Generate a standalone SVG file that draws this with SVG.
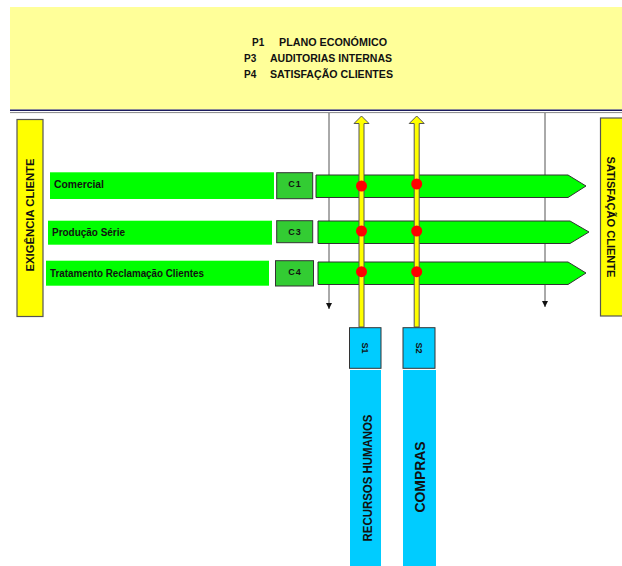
<svg xmlns="http://www.w3.org/2000/svg" width="622" height="566" viewBox="0 0 622 566">
<defs>
<style>
.t{font-family:"Liberation Sans",Arial,sans-serif;font-weight:bold;fill:#111}
.ylw{fill:#FFFF00;stroke:#555;stroke-width:1.2}
.lbl{fill:#00FF00}
.cbox{fill:#33CC33;stroke:#333;stroke-width:1}
.bar{fill:#00FF00;stroke:#333;stroke-width:1}
.vline{stroke:#555;stroke-width:1;fill:none}
.yarrow{fill:#FFFF00;stroke:#555;stroke-width:1}
.dot{fill:#FF0000}
.sbox{fill:#00CCFF;stroke:#333;stroke-width:1}
.scol{fill:#00CCFF}
</style>
<marker id="ah" viewBox="0 0 6 6" refX="6" refY="3" markerWidth="6" markerHeight="6" markerUnits="userSpaceOnUse" orient="auto">
<path d="M0,0 L6,3 L0,6 z" fill="#111"/>
</marker>
</defs>
<rect width="622" height="566" fill="#fff"/>

<g id="header">
<rect x="10" y="7" width="612" height="102.5" fill="#FFFF99"/>
<line x1="10" y1="110.3" x2="622" y2="110.3" stroke="#1a1a5e" stroke-width="1.6"/>
<line x1="10" y1="112.6" x2="622" y2="112.6" stroke="#888" stroke-width="1"/>
<text class="t" font-size="10"><tspan x="252" y="46">P1</tspan><tspan x="279" y="46" textLength="108" lengthAdjust="spacingAndGlyphs">PLANO ECONÓMICO</tspan></text>
<text class="t" font-size="10"><tspan x="244" y="62">P3</tspan><tspan x="270" y="62" textLength="122" lengthAdjust="spacingAndGlyphs">AUDITORIAS INTERNAS</tspan></text>
<text class="t" font-size="10"><tspan x="244" y="78">P4</tspan><tspan x="270" y="78" textLength="123" lengthAdjust="spacingAndGlyphs">SATISFAÇÃO CLIENTES</tspan></text>
</g>

<g id="connectors">
<line class="vline" x1="329" y1="113" x2="329" y2="309" marker-end="url(#ah)"/>
<line class="vline" x1="545" y1="113" x2="545" y2="307" marker-end="url(#ah)"/>
</g>

<g id="exigencia">
<rect class="ylw" x="17" y="119.5" width="26" height="197"/>
<text class="t" font-size="11" text-anchor="middle" transform="translate(34,215) rotate(-90)" textLength="113" lengthAdjust="spacingAndGlyphs">EXIGÊNCIA CLIENTE</text>
</g>

<g id="satisfacao">
<rect class="ylw" x="600.5" y="118" width="30" height="198"/>
<text class="t" font-size="11" text-anchor="middle" transform="translate(607,217) rotate(90)" textLength="121" lengthAdjust="spacingAndGlyphs">SATISFAÇÃO CLIENTE</text>
</g>

<g id="row1">
<rect class="lbl" x="50" y="172.3" width="224" height="26.7"/>
<text class="t" font-size="10" x="54" y="188" textLength="50" lengthAdjust="spacingAndGlyphs">Comercial</text>
<rect class="cbox" x="276.7" y="172.7" width="36" height="26"/>
<text class="t" font-size="9" x="295" y="187" text-anchor="middle" letter-spacing="1">C1</text>
<polygon class="bar" points="316,175 568,175 586,186 568,197.5 316,197.5"/>
</g>

<g id="row2">
<rect class="lbl" x="48" y="220.7" width="224" height="24"/>
<text class="t" font-size="10" x="52" y="236" textLength="73" lengthAdjust="spacingAndGlyphs">Produção Série</text>
<rect class="cbox" x="276.7" y="220.7" width="36" height="22"/>
<text class="t" font-size="9" x="295" y="234.5" text-anchor="middle" letter-spacing="1">C3</text>
<polygon class="bar" points="318,221 570,221 589,232 570,243.5 318,243.5"/>
</g>

<g id="row3">
<rect class="lbl" x="46" y="260.7" width="223" height="25"/>
<text class="t" font-size="10" x="50" y="276.5" textLength="154" lengthAdjust="spacingAndGlyphs">Tratamento Reclamação Clientes</text>
<rect class="cbox" x="275.5" y="260.7" width="38" height="25.3"/>
<text class="t" font-size="9" x="295" y="275" text-anchor="middle" letter-spacing="1">C4</text>
<polygon class="bar" points="318,262 568,262 586,273 568,284.5 318,284.5"/>
</g>

<g id="s1">
<polygon class="yarrow" points="361.5,116 369,123.5 364,123.5 364,327 359,327 359,123.5 354,123.5"/>
<circle class="dot" cx="361.5" cy="186" r="5.5"/>
<circle class="dot" cx="361.5" cy="231" r="5.5"/>
<circle class="dot" cx="361.5" cy="271.7" r="5.5"/>
<rect class="sbox" x="349.5" y="327.7" width="31.5" height="40.6"/>
<text class="t" font-size="9" text-anchor="middle" transform="translate(362,348) rotate(90)">S1</text>
<rect class="scol" x="350" y="370" width="31" height="196"/>
<text class="t" font-size="13" text-anchor="middle" transform="translate(371.5,478) rotate(-90)" textLength="127" lengthAdjust="spacingAndGlyphs">RECURSOS HUMANOS</text>
</g>

<g id="s2">
<polygon class="yarrow" points="416.7,116 424.2,123.5 419.2,123.5 419.2,327 414.2,327 414.2,123.5 409.2,123.5"/>
<circle class="dot" cx="416.7" cy="184" r="5.5"/>
<circle class="dot" cx="416.7" cy="231" r="5.5"/>
<circle class="dot" cx="416.7" cy="271.7" r="5.5"/>
<rect class="sbox" x="403" y="327.7" width="32" height="40.6"/>
<text class="t" font-size="9" text-anchor="middle" transform="translate(416,348) rotate(90)">S2</text>
<rect class="scol" x="403" y="370" width="33" height="196"/>
<text class="t" font-size="14" text-anchor="middle" transform="translate(424.5,477) rotate(-90)" textLength="71" lengthAdjust="spacingAndGlyphs">COMPRAS</text>
</g>
</svg>
